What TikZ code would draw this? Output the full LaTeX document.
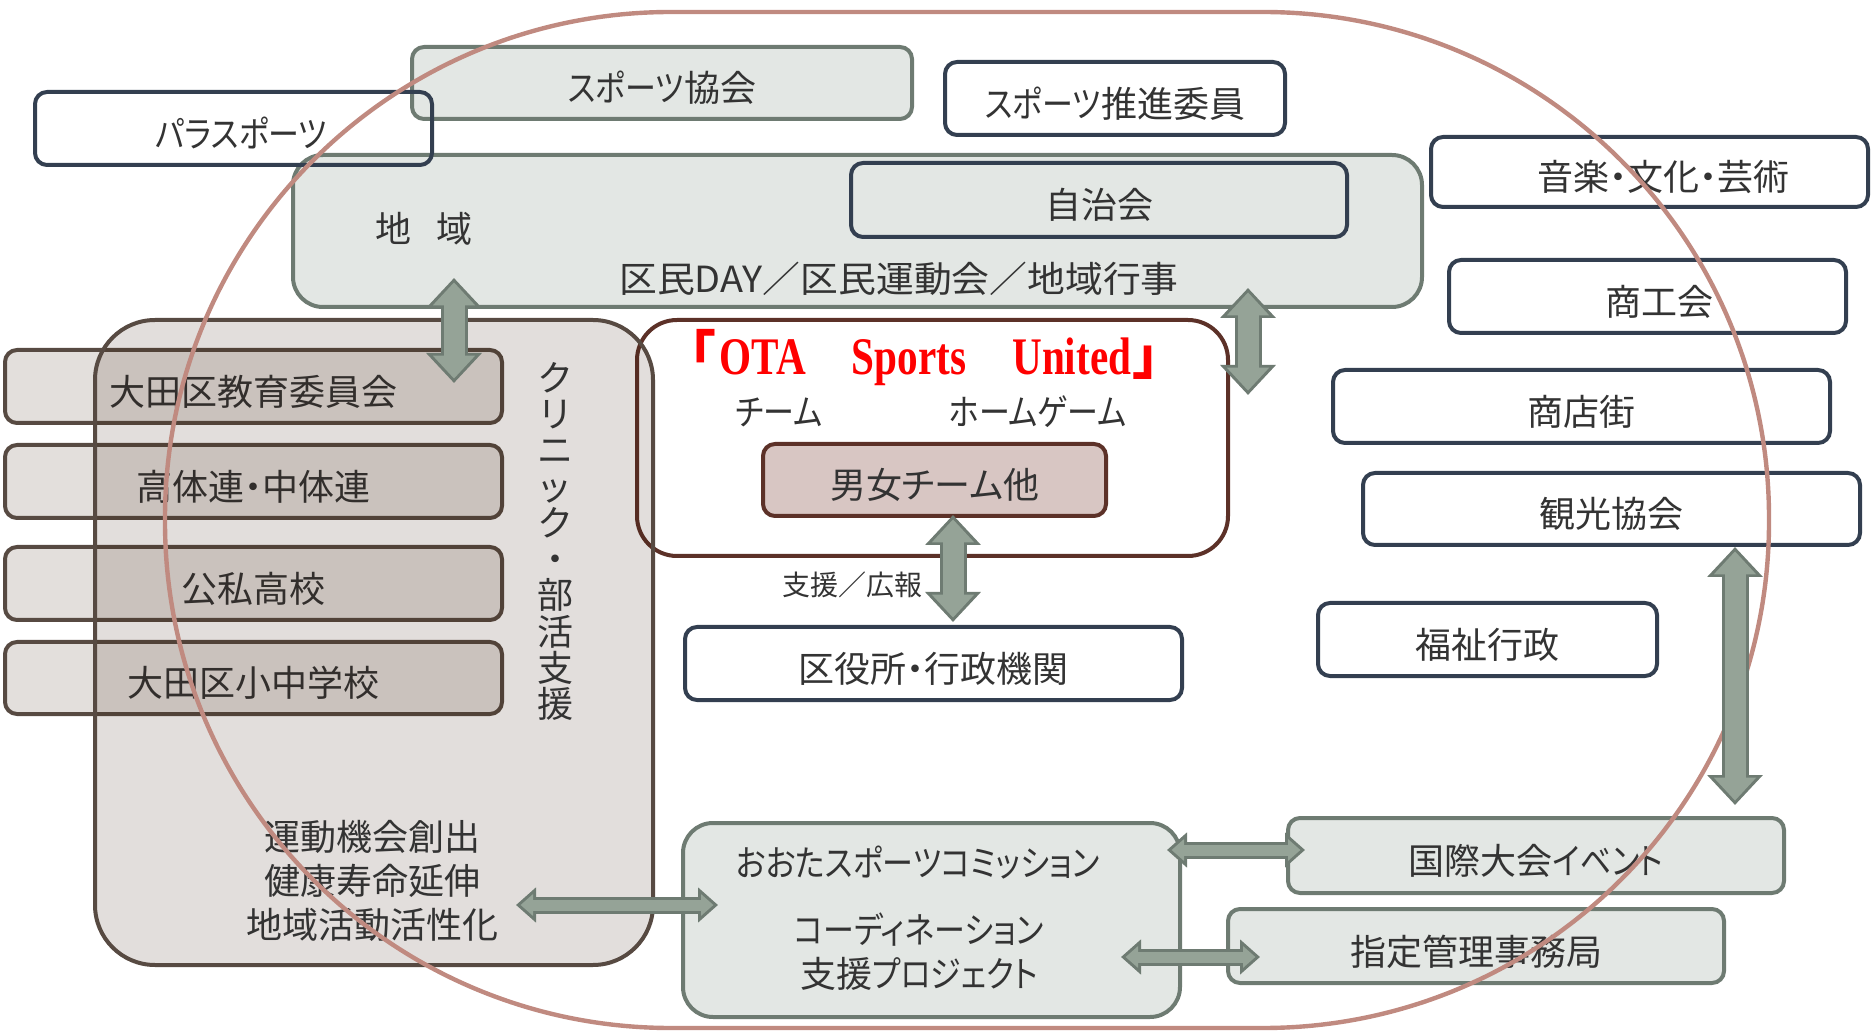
\documentclass[tikz,border=0pt]{standalone}
\usepackage{fontspec}
\usepackage{graphicx}
\usepackage{tikz}
\usetikzlibrary{arrows.meta}
\setmainfont{Noto Sans CJK JP}[RawFeature=+palt]
\newfontfamily\kana{Noto Sans CJK JP}[RawFeature=+palt, FakeStretch=0.86]
\newfontfamily\fullwidth{Noto Sans CJK JP}
\newfontfamily\titlefont{Liberation Serif}
\definecolor{ink}{HTML}{333333}
\definecolor{navy}{HTML}{333F50}
\definecolor{sage}{HTML}{6E7B72}
\definecolor{pale}{HTML}{E3E7E4}
\definecolor{moss}{HTML}{95A397}
\definecolor{umber}{HTML}{574A42}
\definecolor{sand}{HTML}{E3DFDC}
\definecolor{maroon}{HTML}{5C3128}
\definecolor{blush}{HTML}{D8C6C3}
\definecolor{rosy}{HTML}{C08A80}
\definecolor{shade}{RGB}{45,16,0}
\tikzset{every node/.style = {font = \fontsize{18pt}{22pt}\selectfont, text = ink}}
\tikzset{box/.style = {draw = navy, line width = 2pt, rounded corners = 6pt, inner sep = 0, text height = 21.2pt, text depth = 2.2pt}}
\tikzset{greybox/.style = {draw = sage, fill = pale, line width = 2pt, rounded corners = 6pt, inner sep = 0, text height = 21.2pt, text depth = 2.2pt}}
\tikzset{schoolbox/.style = {draw = umber, fill = sand, line width = 2pt, rounded corners = 6pt, inner sep = 0, text height = 21.2pt, text depth = 2.2pt}}
\tikzset{varrow/.style = {draw = sage, line width = 13.5pt, <->, >={Triangle[width = 27pt, length = 15pt]}}}
\tikzset{varrowin/.style = {draw = moss, line width = 10.5pt, shorten <= 2.2pt, shorten >= 2.2pt, <->, >={Triangle[width = 20.5pt, length = 11.5pt]}}}
\tikzset{harrow/.style = {draw = sage, line width = 8.5pt, <->, >={Triangle[width = 17pt, length = 10pt]}}}
\tikzset{harrowin/.style = {draw = moss, line width = 5.5pt, shorten <= 2.3pt, shorten >= 2.3pt, <->, >={Triangle[width = 10.5pt, length = 6.2pt]}}}

\begin{document}
\begin{tikzpicture}[x = 0.5pt, y = -0.5pt]
    \useasboundingbox (0, 0) rectangle (1874, 1031);

    \node[greybox, minimum width = 250pt, minimum height = 36pt] (kyokai) at (662, 83) {{\kana スポーツ}協会};
    \node[greybox, rounded corners = 15pt, minimum width = 564.5pt, minimum height = 76pt] (chiiki) at (857.5, 231) {};
    \node[greybox, minimum width = 248pt, minimum height = 37.5pt] (kokusai) at (1536, 855.5) {国際大会{\kana イベント}};
    \node[greybox, minimum width = 248pt, minimum height = 37pt] (shitei) at (1476, 946) {指定管理事務局};
    \node[greybox, rounded corners = 15pt, minimum width = 248.5pt, minimum height = 97pt] (commission) at (931.5, 920) {};

    \node[box, minimum width = 198.5pt, minimum height = 36.5pt] (para) at (233.5, 128.5) {\hspace*{8pt}{\kana パラスポーツ}};
    \node[box, minimum width = 170pt, minimum height = 36.5pt] (suishin) at (1115, 98.5) {{\kana スポーツ}推進委員};
    \node[box, minimum width = 248pt, minimum height = 37pt] (jichikai) at (1099, 200) {自治会};
    \node[box, minimum width = 218.5pt, minimum height = 35pt] (ongaku) at (1649.5, 172) {\hspace*{14pt}音楽・文化・芸術};
    \node[box, minimum width = 198.5pt, minimum height = 36.5pt] (shokokai) at (1647.5, 296.5) {\hspace*{12pt}商工会};
    \node[box, minimum width = 248.5pt, minimum height = 36.5pt] (shotengai) at (1581.5, 406.5) {商店街};
    \node[box, minimum width = 248.5pt, minimum height = 36pt] (kanko) at (1611.5, 509) {観光協会};
    \node[box, minimum width = 169.5pt, minimum height = 36.5pt] (fukushi) at (1487.5, 639.5) {福祉行政};
    \node[box, minimum width = 248.5pt, minimum height = 36.5pt] (kuyakusho) at (933.5, 663.5) {区役所・行政機関};

    \node (chiikilabel) at (424, 229) {地\hspace{13pt}域};
    \node[font = \fontsize{18pt}{22pt}\fullwidth] (events) at (899, 279) {\scalebox{1.05}[1]{区民DAY／区民運動会／地域行事}};

    \node[schoolbox, minimum width = 248.5pt, minimum height = 36.5pt] (kyoiku) at (253.5, 386.5) {大田区教育委員会};
    \node[schoolbox, minimum width = 248.5pt, minimum height = 36.5pt] (kotairen) at (253.5, 481.5) {高体連・中体連};
    \node[schoolbox, minimum width = 248.5pt, minimum height = 36.5pt] (koshi) at (253.5, 583.5) {公私高校};
    \node[schoolbox, minimum width = 248.5pt, minimum height = 36pt] (shochu) at (253.5, 678) {大田区小中学校};

    \node[draw = maroon, fill = white, line width = 2pt, rounded corners = 20pt, minimum width = 295.5pt, minimum height = 118pt] (team) at (932.5, 438) {};
    \node[draw = maroon, fill = blush, line width = 2pt, rounded corners = 6pt, minimum width = 171.5pt, minimum height = 36pt, inner sep = 0, text height = 21.2pt, text depth = 2.2pt] (danjo) at (934.5, 480) {男女チーム他};

    \node[draw = umber, fill = shade, fill opacity = 0.138, line width = 2pt, rounded corners = 30pt, minimum width = 279pt, minimum height = 322.5pt] (club) at (374, 642.5) {};

    \node[text = red, font = \fontsize{26.4pt}{30pt}\selectfont\bfseries] (title) at (924.5, 358)
        {「\hspace{2pt}\scalebox{0.78}[1]{\titlefont OTA}\hspace{23pt}\scalebox{0.78}[1]{\titlefont Sports}\hspace{23pt}\scalebox{0.78}[1]{\titlefont United}\hspace{1pt}」};
    \node (teamlabel) at (779, 412) {\kana チーム};
    \node (homegame) at (1038, 412) {\kana ホームゲーム};
    \node[font = \fontsize{14pt}{16pt}\selectfont] (pr) at (852, 585) {支援／広報};
    \node[align = center, font = \fontsize{18pt}{18.15pt}\selectfont] (clinic) at (555, 541.5)
        {ク\\リ\\ニ\\ッ\\ク\\・\\部\\活\\支\\援};
    \node[align = center] (goals) at (372, 881) {運動機会創出\\健康寿命延伸\\地域活動活性化};
    \node (commtitle) at (918, 863) {\kana おおたスポーツコミッション};
    \node[align = center] (commtext) at (919, 952) {{\kana コーディネーション}\\支援{\kana プロジェクト}};

    \draw[rosy, line width = 2.2pt, rounded corners = 253pt] (165, 12) rectangle (1769, 1028);

    \coordinate (v1a) at (454, 278);
    \coordinate (v1b) at (454, 383);
    \coordinate (v2a) at (1248, 288);
    \coordinate (v2b) at (1248, 395);
    \coordinate (v3a) at (953, 515);
    \coordinate (v3b) at (953, 622);
    \coordinate (v4a) at (1735, 547);
    \coordinate (v4b) at (1735, 805);
    \coordinate (h1a) at (516, 905);
    \coordinate (h1b) at (718, 905);
    \coordinate (h2a) at (1167, 850);
    \coordinate (h2b) at (1305, 850);
    \coordinate (h3a) at (1121, 957);
    \coordinate (h3b) at (1260, 957);

    \foreach \a/\b in {v1a/v1b, v2a/v2b, v3a/v3b, v4a/v4b} {
        \draw[varrow] (\a) -- (\b);
        \draw[varrowin] (\a) -- (\b);
    }
    \foreach \a/\b in {h1a/h1b, h2a/h2b, h3a/h3b} {
        \draw[harrow] (\a) -- (\b);
        \draw[harrowin] (\a) -- (\b);
    }

\end{tikzpicture}
\end{document}
